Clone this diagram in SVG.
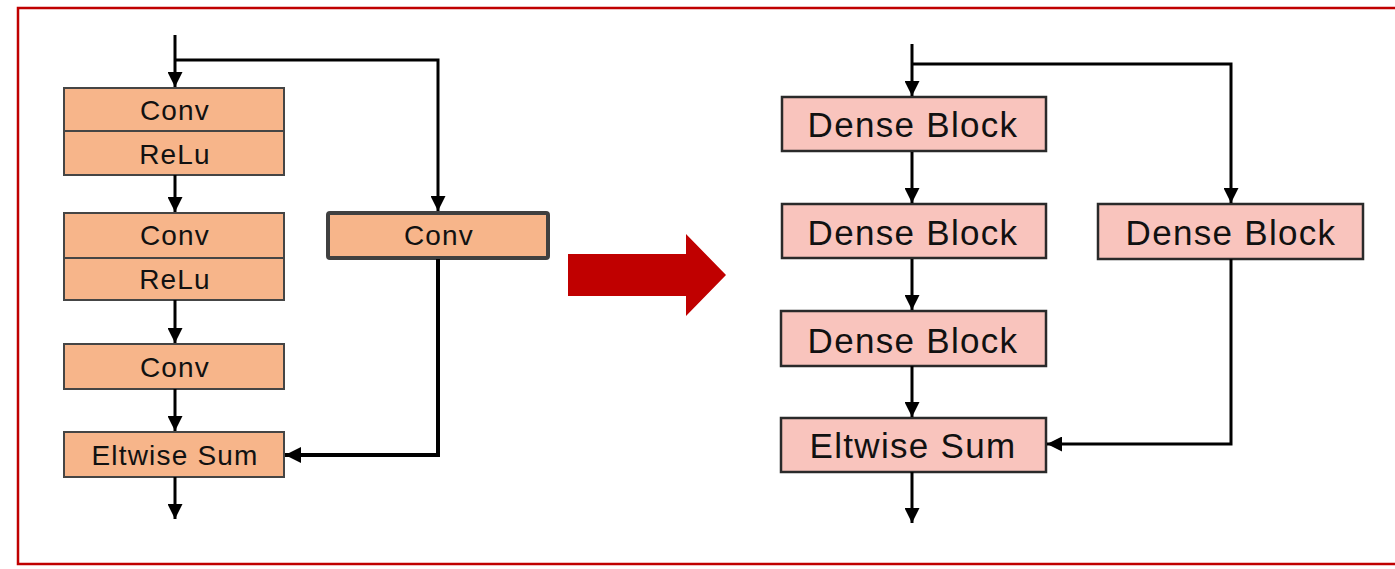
<svg xmlns="http://www.w3.org/2000/svg" width="1395" height="569" viewBox="0 0 1395 569">
<defs>
<style>
.bl{fill:#F7B58A;stroke:#454545;stroke-width:2}
.bl2{fill:#F7B58A;stroke:#404040;stroke-width:4}
.br{fill:#F9C4BD;stroke:#2a2a2a;stroke-width:2.5}
.tl{font-family:"Liberation Sans",Arial,sans-serif;font-size:28px;letter-spacing:1.2px;fill:#111;text-anchor:middle}
.tr{font-family:"Liberation Sans",Arial,sans-serif;font-size:35px;letter-spacing:1.3px;fill:#111;text-anchor:middle}
.c{fill:none;stroke:#000;stroke-width:3;marker-end:url(#ah)}
.c2{fill:none;stroke:#000;stroke-width:4;marker-end:url(#ah2)}
</style>
<marker id="ah" viewBox="0 0 10 10" refX="10" refY="5" markerWidth="5" markerHeight="5" markerUnits="strokeWidth" orient="auto">
<path d="M0,0 L10,5 L0,10 z" fill="#000"/>
</marker>
<marker id="ah2" viewBox="0 0 10 10" refX="10" refY="5" markerWidth="4" markerHeight="4" markerUnits="strokeWidth" orient="auto">
<path d="M0,0 L10,5 L0,10 z" fill="#000"/>
</marker>
</defs>
<rect x="0" y="0" width="1395" height="569" fill="#fff"/>
<path d="M1400,8 H18 V564 H1400" fill="none" stroke="#C00000" stroke-width="2.5"/>

<g id="conv-relu-1"><rect class="bl" x="64" y="88" width="220" height="43"/><rect class="bl" x="64" y="131" width="220" height="44"/><text class="tl" x="175" y="120">Conv</text><text class="tl" x="175" y="164">ReLu</text></g>
<g id="conv-relu-2"><rect class="bl" x="64" y="213" width="220" height="45"/><rect class="bl" x="64" y="258" width="220" height="42"/><text class="tl" x="175" y="245">Conv</text><text class="tl" x="175" y="289">ReLu</text></g>
<g id="conv-3"><rect class="bl" x="64" y="344" width="220" height="45"/><text class="tl" x="175" y="377">Conv</text></g>
<g id="eltwise-left"><rect class="bl" x="64" y="432" width="220" height="45"/><text class="tl" x="175" y="465">Eltwise Sum</text></g>
<g id="conv-shortcut"><rect class="bl2" x="328" y="213" width="220" height="45" rx="2"/><text class="tl" x="439" y="245">Conv</text></g>

<g id="big-arrow"><path d="M568,254 H686 V234 L726,275 L686,316 V296 H568 z" fill="#C00000"/></g>

<g id="dense-1"><rect class="br" x="782" y="97" width="264" height="54"/><text class="tr" x="913" y="137">Dense Block</text></g>
<g id="dense-2"><rect class="br" x="782" y="204" width="264" height="54"/><text class="tr" x="913" y="245">Dense Block</text></g>
<g id="dense-3"><rect class="br" x="781" y="311" width="265" height="55"/><text class="tr" x="913" y="353">Dense Block</text></g>
<g id="eltwise-right"><rect class="br" x="781" y="418" width="265" height="54"/><text class="tr" x="913" y="458">Eltwise Sum</text></g>
<g id="dense-shortcut"><rect class="br" x="1098" y="204" width="265" height="55"/><text class="tr" x="1231" y="245">Dense Block</text></g>

<g id="connectors">
<path class="c" d="M175,35 V87"/>
<path class="c" d="M175,60 H438 V211"/>
<path class="c" d="M175,175 V212"/>
<path class="c" d="M175,300 V343"/>
<path class="c" d="M175,389 V431"/>
<path class="c" d="M175,477 V519"/>
<path class="c2" d="M438,259 V455 H285"/>
<path class="c" d="M912,44 V96"/>
<path class="c" d="M912,64 H1231 V203"/>
<path class="c" d="M912,152 V203"/>
<path class="c" d="M912,259 V310"/>
<path class="c" d="M912,366 V417"/>
<path class="c" d="M912,472 V523"/>
<path class="c" d="M1231,259 V444 H1047"/>
</g>
</svg>
